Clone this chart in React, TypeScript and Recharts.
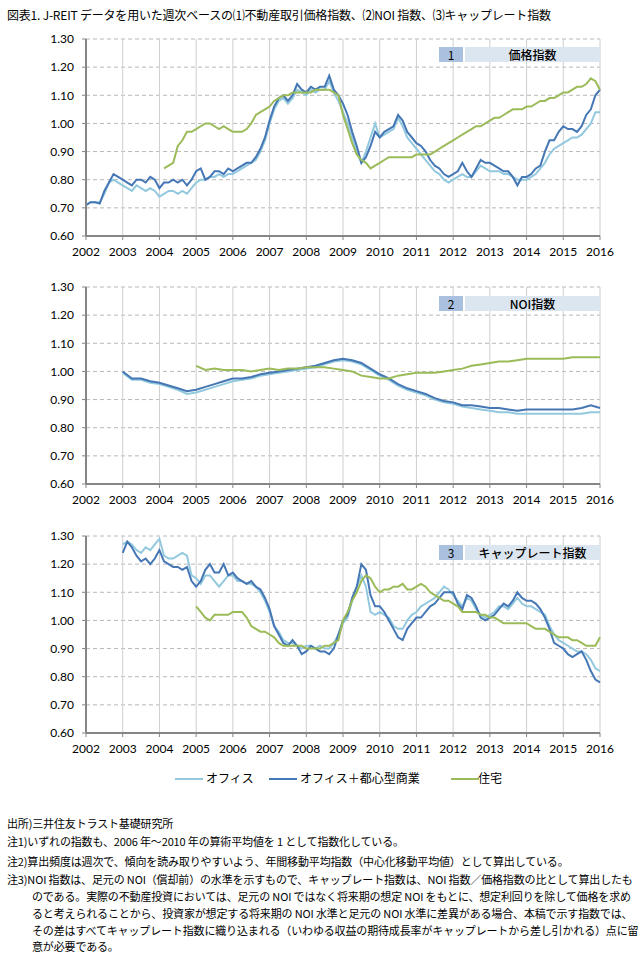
import { LineChart, Line, XAxis, YAxis, CartesianGrid } from 'recharts';

// time grids: 1/8 year for price & cap rate, quarterly for NOI
const eighths: number[] = Array.from({ length: 113 }, (_, i) => 2002 + i * 0.125);
const quarters: number[] = Array.from({ length: 57 }, (_, i) => 2002 + i * 0.25);
const yearTicks = [2002, 2003, 2004, 2005, 2006, 2007, 2008, 2009, 2010, 2011, 2012, 2013, 2014, 2015, 2016];
const valueTicks = [0.6, 0.7, 0.8, 0.9, 1.0, 1.1, 1.2, 1.3];

const seriesNames = ['オフィス', 'オフィス＋都心型商業', '住宅'];
const seriesColors = ['#93c9de', '#4577b5', '#9bbb59'];

const n = null;

// (1) 価格指数  (1/8 year)
const priceOffice = [
  0.71, 0.72, 0.72, 0.72, 0.75, 0.79, 0.80, 0.79,
  0.78, 0.77, 0.76, 0.78, 0.77, 0.76, 0.77, 0.76,
  0.74, 0.75, 0.76, 0.76, 0.75, 0.76, 0.75, 0.77,
  0.79, 0.80, 0.80, 0.81, 0.81, 0.82, 0.81, 0.82,
  0.82, 0.83, 0.84, 0.85, 0.86, 0.87, 0.90, 0.94,
  1.00, 1.05, 1.08, 1.09, 1.07, 1.09, 1.12, 1.11,
  1.10, 1.12, 1.11, 1.12, 1.12, 1.15, 1.11, 1.08,
  1.04, 1.00, 0.95, 0.90, 0.86, 0.90, 0.95, 1.00,
  0.95, 0.96, 0.97, 0.98, 1.02, 0.99, 0.95, 0.93,
  0.91, 0.89, 0.87, 0.85, 0.83, 0.82, 0.80, 0.79,
  0.80, 0.81, 0.82, 0.81, 0.81, 0.83, 0.85, 0.84,
  0.83, 0.83, 0.83, 0.82, 0.82, 0.81, 0.80, 0.80,
  0.80, 0.81, 0.82, 0.84, 0.86, 0.89, 0.91, 0.92,
  0.93, 0.94, 0.95, 0.95, 0.96, 0.98, 1.00, 1.04,
  1.04,
];
const priceMixed = [
  0.71, 0.72, 0.72, 0.715, 0.76, 0.79, 0.82, 0.81,
  0.80, 0.79, 0.78, 0.80, 0.80, 0.79, 0.81, 0.80,
  0.77, 0.79, 0.79, 0.80, 0.79, 0.80, 0.78, 0.80,
  0.83, 0.84, 0.80, 0.81, 0.83, 0.83, 0.82, 0.84,
  0.83, 0.84, 0.85, 0.86, 0.86, 0.88, 0.91, 0.95,
  1.01, 1.06, 1.09, 1.10, 1.08, 1.10, 1.14, 1.12,
  1.11, 1.13, 1.12, 1.13, 1.13, 1.17, 1.12, 1.10,
  1.07, 1.03, 0.97, 0.92, 0.86, 0.88, 0.92, 0.97,
  0.95, 0.97, 0.98, 0.99, 1.03, 1.01, 0.97, 0.95,
  0.93, 0.92, 0.90, 0.87, 0.85, 0.84, 0.82, 0.81,
  0.82, 0.83, 0.86, 0.83, 0.81, 0.84, 0.87, 0.86,
  0.86, 0.85, 0.84, 0.83, 0.83, 0.81, 0.78, 0.81,
  0.81, 0.82, 0.84, 0.85, 0.90, 0.94, 0.94, 0.97,
  0.99, 0.98, 0.98, 0.97, 0.99, 1.03, 1.05, 1.10,
  1.12,
];
const priceHouse = [
  n, n, n, n, n, n, n, n,
  n, n, n, n, n, n, n, n,
  n, 0.84, 0.85, 0.86, 0.92, 0.94, 0.97, 0.97,
  0.98, 0.99, 1.00, 1.00, 0.99, 0.98, 0.99, 0.98,
  0.97, 0.97, 0.97, 0.98, 1.00, 1.03, 1.04, 1.05,
  1.06, 1.08, 1.09, 1.10, 1.10, 1.11, 1.11, 1.11,
  1.11, 1.11, 1.12, 1.12, 1.12, 1.12, 1.11, 1.10,
  1.03, 0.98, 0.93, 0.89, 0.87, 0.86, 0.84, 0.85,
  0.86, 0.87, 0.88, 0.88, 0.88, 0.88, 0.88, 0.88,
  0.89, 0.89, 0.89, 0.89, 0.90, 0.91, 0.92, 0.93,
  0.94, 0.95, 0.96, 0.97, 0.98, 0.99, 0.99, 1.00,
  1.01, 1.02, 1.02, 1.03, 1.04, 1.05, 1.05, 1.05,
  1.06, 1.06, 1.07, 1.08, 1.08, 1.09, 1.09, 1.10,
  1.11, 1.11, 1.12, 1.13, 1.13, 1.14, 1.16, 1.15,
  1.12,
];

// (2) NOI指数  (quarterly)
const noiOffice = [
  n, n, n, n,
  0.995, 0.97, 0.97, 0.96,
  0.955, 0.945, 0.935, 0.92,
  0.925, 0.935, 0.945, 0.955,
  0.965, 0.97, 0.975, 0.985,
  0.99, 0.995, 1.0, 1.005,
  1.01, 1.015, 1.025, 1.035,
  1.04, 1.035, 1.025, 1.005,
  0.985, 0.97, 0.95, 0.935,
  0.925, 0.915, 0.9, 0.89,
  0.885, 0.875, 0.87, 0.865,
  0.86, 0.855, 0.855, 0.85,
  0.85, 0.85, 0.85, 0.85,
  0.85, 0.85, 0.85, 0.855,
  0.855,
];
const noiMixed = [
  n, n, n, n,
  1.0, 0.975, 0.975, 0.965,
  0.96, 0.95, 0.94, 0.93,
  0.935, 0.945, 0.955, 0.965,
  0.975, 0.975, 0.98, 0.99,
  0.995, 1.0, 1.005, 1.01,
  1.015, 1.02, 1.03, 1.04,
  1.045, 1.04, 1.03, 1.01,
  0.99, 0.975, 0.955, 0.94,
  0.93, 0.92, 0.905, 0.895,
  0.89, 0.88, 0.88, 0.875,
  0.87, 0.87, 0.865, 0.86,
  0.865, 0.865, 0.865, 0.865,
  0.865, 0.865, 0.87, 0.88,
  0.87,
];
const noiHouse = [
  n, n, n, n,
  n, n, n, n,
  n, n, n, n,
  1.02, 1.005, 1.01, 1.005,
  1.005, 1.005, 1.0, 1.005,
  1.01, 1.005, 1.01, 1.01,
  1.015, 1.015, 1.015, 1.01,
  1.005, 1.0, 0.985, 0.98,
  0.975, 0.975, 0.985, 0.99,
  0.995, 0.995, 0.995, 1.0,
  1.005, 1.01, 1.02, 1.025,
  1.03, 1.035, 1.035, 1.04,
  1.045, 1.045, 1.045, 1.045,
  1.045, 1.05, 1.05, 1.05,
  1.05,
];

// (3) キャップレート指数  (1/8 year)
const capOffice = [
  n, n, n, n, n, n, n, n,
  1.27, 1.28, 1.27, 1.25, 1.24, 1.26, 1.25, 1.27,
  1.29, 1.23, 1.22, 1.22, 1.23, 1.24, 1.23, 1.16,
  1.15, 1.13, 1.16, 1.16, 1.14, 1.12, 1.14, 1.16,
  1.16, 1.14, 1.14, 1.13, 1.13, 1.12, 1.10, 1.07,
  1.03, 0.98, 0.96, 0.93, 0.92, 0.92, 0.91, 0.90,
  0.91, 0.91, 0.90, 0.91, 0.90, 0.90, 0.92, 0.95,
  0.99, 1.01, 1.07, 1.12, 1.16, 1.12, 1.03, 1.02,
  1.03, 1.02, 1.01, 0.98, 0.97, 0.97, 1.00, 1.02,
  1.03, 1.05, 1.06, 1.07, 1.08, 1.10, 1.12, 1.11,
  1.09, 1.07, 1.05, 1.08, 1.07, 1.04, 1.02, 1.01,
  1.02, 1.03, 1.05, 1.05, 1.04, 1.06, 1.08, 1.06,
  1.05, 1.05, 1.04, 1.03, 1.02, 0.98, 0.95, 0.93,
  0.92, 0.91, 0.90, 0.89, 0.89, 0.88, 0.86, 0.83,
  0.82,
];
const capMixed = [
  n, n, n, n, n, n, n, n,
  1.24, 1.28, 1.26, 1.23, 1.21, 1.22, 1.20, 1.22,
  1.25, 1.21, 1.20, 1.19, 1.19, 1.18, 1.19, 1.14,
  1.12, 1.14, 1.18, 1.20, 1.17, 1.17, 1.20, 1.16,
  1.17, 1.15, 1.14, 1.13, 1.14, 1.12, 1.11, 1.08,
  1.04, 0.98, 0.95, 0.92, 0.91, 0.93, 0.91, 0.88,
  0.89, 0.91, 0.90, 0.89, 0.89, 0.88, 0.90, 0.95,
  1.00, 1.02, 1.08, 1.12, 1.20, 1.18, 1.09, 1.05,
  1.05, 1.03, 1.00, 0.97, 0.94, 0.93, 0.97, 0.99,
  1.01, 1.01, 1.03, 1.05, 1.06, 1.08, 1.10, 1.10,
  1.10, 1.06, 1.04, 1.09, 1.08, 1.05, 1.01, 1.00,
  1.01, 1.02, 1.04, 1.06, 1.05, 1.07, 1.10, 1.08,
  1.07, 1.07, 1.06, 1.04, 1.01, 0.97, 0.92, 0.91,
  0.90, 0.88, 0.87, 0.88, 0.89, 0.86, 0.82, 0.79,
  0.78,
];
const capHouse = [
  n, n, n, n, n, n, n, n,
  n, n, n, n, n, n, n, n,
  n, n, n, n, n, n, n, n,
  1.05, 1.03, 1.01, 1.00, 1.02, 1.02, 1.02, 1.02,
  1.03, 1.03, 1.03, 1.01, 0.98, 0.97, 0.96, 0.96,
  0.95, 0.94, 0.92, 0.91, 0.91, 0.91, 0.91, 0.91,
  0.90, 0.90, 0.90, 0.90, 0.91, 0.91, 0.92, 0.93,
  1.00, 1.03, 1.07, 1.10, 1.14, 1.16, 1.15, 1.12,
  1.10, 1.11, 1.11, 1.12, 1.12, 1.13, 1.11, 1.11,
  1.12, 1.13, 1.12, 1.10, 1.09, 1.08, 1.07, 1.07,
  1.06, 1.05, 1.03, 1.03, 1.03, 1.03, 1.02, 1.02,
  1.01, 1.01, 1.00, 0.99, 0.99, 0.99, 0.99, 0.99,
  0.99, 0.98, 0.97, 0.97, 0.97, 0.96, 0.95, 0.94,
  0.94, 0.94, 0.93, 0.93, 0.92, 0.91, 0.91, 0.91,
  0.94,
];

const buildRows = (grid: number[], a: (number | null)[], b: (number | null)[], c: (number | null)[]) =>
  grid.map((t, i) => ({ t, office: a[i], mixed: b[i], house: c[i] }));

const panels = [
  { no: '1', label: '価格指数', top: 38.5, rows: buildRows(eighths, priceOffice, priceMixed, priceHouse) },
  { no: '2', label: 'NOI指数', top: 287, rows: buildRows(quarters, noiOffice, noiMixed, noiHouse) },
  { no: '3', label: 'キャップレート指数', top: 536, rows: buildRows(eighths, capOffice, capMixed, capHouse) },
];

const PLOT_H = 197;
const PLOT_LEFT = 86;
const PLOT_RIGHT = 600;
const AXIS_COLOR = '#868686';
const tickStyle = { fontSize: 12, fill: '#000', fontFamily: 'Lato, "Liberation Sans", sans-serif' };

const Panel = ({ no, label, top, rows }: { no: string; label: string; top: number; rows: any[] }) => {
  const marginTop = 12;
  return (
    <div style={{ position: 'absolute', left: 0, top: top - marginTop }}>
      <LineChart
        width={640}
        height={marginTop + PLOT_H + 26}
        data={rows}
        margin={{ top: marginTop, right: 640 - PLOT_RIGHT, bottom: 0, left: 0 }}
      >
        <CartesianGrid vertical={false} stroke="#b8b8b8" strokeDasharray="4 3" />
        <CartesianGrid horizontal={false} stroke="#cfcfcf" />
        <XAxis
          dataKey="t"
          type="number"
          domain={[2002, 2016]}
          ticks={yearTicks}
          interval={0}
          height={26}
          tick={tickStyle}
          tickSize={4}
          tickMargin={7}
          axisLine={{ stroke: AXIS_COLOR, strokeWidth: 2 }}
          tickLine={{ stroke: AXIS_COLOR }}
        />
        <YAxis
          type="number"
          domain={[0.6, 1.3]}
          ticks={valueTicks}
          interval={0}
          width={PLOT_LEFT}
          tick={tickStyle}
          tickSize={4}
          tickMargin={8}
          tickFormatter={(v: number) => v.toFixed(2)}
          axisLine={{ stroke: AXIS_COLOR, strokeWidth: 2 }}
          tickLine={{ stroke: AXIS_COLOR }}
          allowDataOverflow
        />
        <Line dataKey="office" name={seriesNames[0]} stroke={seriesColors[0]} strokeWidth={2} dot={false} isAnimationActive={false} />
        <Line dataKey="mixed" name={seriesNames[1]} stroke={seriesColors[1]} strokeWidth={2} dot={false} isAnimationActive={false} />
        <Line dataKey="house" name={seriesNames[2]} stroke={seriesColors[2]} strokeWidth={2} dot={false} isAnimationActive={false} />
      </LineChart>
      <div style={{ position: 'absolute', left: 439, top: marginTop + 8.5, width: 24, height: 15, background: '#a9c1de', fontSize: 12, lineHeight: '15px', textAlign: 'center' }}>{no}</div>
      <div style={{ position: 'absolute', left: 465, top: marginTop + 8.5, width: 135, height: 15, background: '#dce6f1', fontSize: 12, lineHeight: '15px', textAlign: 'center', fontWeight: 500 }}>{label}</div>
    </div>
  );
};

const notes = [
  { x: 7, y: 823, text: '出所)三井住友トラスト基礎研究所' },
  { x: 7, y: 841, text: '注1)いずれの指数も、2006 年～2010 年の算術平均値を 1 として指数化している。' },
  { x: 7, y: 861, text: '注2)算出頻度は週次で、傾向を読み取りやすいよう、年間移動平均指数（中心化移動平均値）として算出している。' },
  { x: 7, y: 879, text: '注3)NOI 指数は、足元の NOI（償却前）の水準を示すもので、キャップレート指数は、NOI 指数／価格指数の比として算出したも' },
  { x: 32, y: 896, text: 'のである。実際の不動産投資においては、足元の NOI ではなく将来期の想定 NOI をもとに、想定利回りを除して価格を求め' },
  { x: 32, y: 913, text: 'ると考えられることから、投資家が想定する将来期の NOI 水準と足元の NOI 水準に差異がある場合、本稿で示す指数では、' },
  { x: 32, y: 930, text: 'その差はすべてキャップレート指数に織り込まれる（いわゆる収益の期待成長率がキャップレートから差し引かれる）点に留' },
  { x: 32, y: 946, text: '意が必要である。' },
];

const legendItems = [
  { x: 175, textX: 206 },
  { x: 269, textX: 300 },
  { x: 451, textX: 478 },
];

export default function App() {
  return (
    <div
      style={{
        position: 'absolute',
        left: 0,
        top: 0,
        width: 640,
        height: 961,
        background: '#fff',
        fontFamily: '"Noto Sans CJK JP", sans-serif',
        color: '#000',
        overflow: 'hidden',
      }}
    >
      <div style={{ position: 'absolute', left: 7, top: 6, fontSize: 12, whiteSpace: 'nowrap', letterSpacing: -0.2 }}>
        図表1. J-REIT データを用いた週次ベースの⑴不動産取引価格指数、⑵NOI 指数、⑶キャップレート指数
      </div>
      {panels.map((p) => (
        <Panel key={p.no} {...p} />
      ))}
      {legendItems.map((it, i) => (
        <div key={i}>
          <div style={{ position: 'absolute', left: it.x, top: 778, width: 28, height: 2, background: seriesColors[i] }} />
          <div style={{ position: 'absolute', left: it.textX, top: 770, fontSize: 12, lineHeight: '16px', whiteSpace: 'nowrap' }}>{seriesNames[i]}</div>
        </div>
      ))}
      {notes.map((nt, i) => (
        <div key={i} style={{ position: 'absolute', left: nt.x, top: nt.y - 8, fontSize: 11, lineHeight: '16px', whiteSpace: 'nowrap', letterSpacing: -0.15 }}>
          {nt.text}
        </div>
      ))}
    </div>
  );
}
